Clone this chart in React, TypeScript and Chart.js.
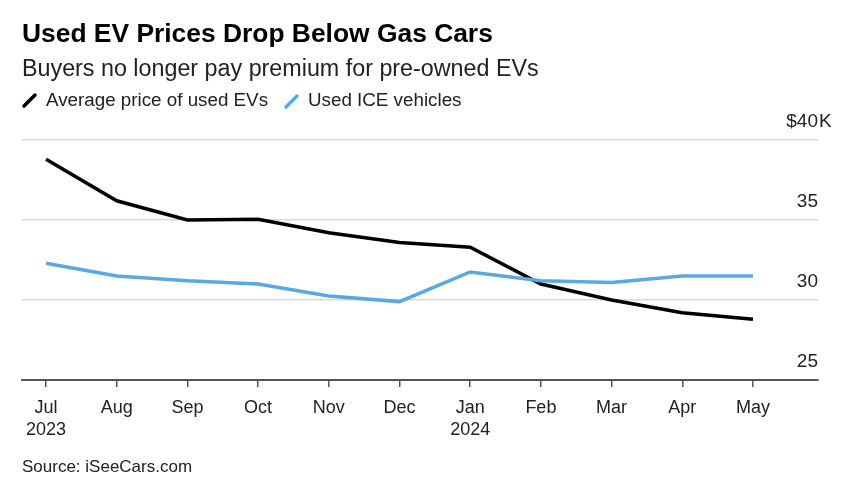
import React, { useEffect, useRef } from 'react';
import { Chart, registerables } from 'chart.js';

Chart.register(...registerables);

const months = ['Jul', 'Aug', 'Sep', 'Oct', 'Nov', 'Dec', 'Jan', 'Feb', 'Mar', 'Apr', 'May'];
const years = ['2023', '', '', '', '', '', '2024', '', '', '', ''];
const evPrices = [38.8, 36.2, 35.0, 35.05, 34.2, 33.6, 33.3, 31.0, 30.0, 29.2, 28.8];
const icePrices = [32.3, 31.5, 31.2, 31.0, 30.25, 29.9, 31.75, 31.2, 31.1, 31.5, 31.5];
const yTickValues = [25, 30, 35, 40];
const seriesNames = ['Average price of used EVs', 'Used ICE vehicles'];
const seriesColors = ['#000000', '#5aa8e3'];

const FONT = '"Liberation Sans", Arial, Helvetica, sans-serif';

const yLabelPlugin = {
  id: 'yLabels',
  afterDraw(chart: any) {
    const y = chart.scales.y;
    const ctx = chart.ctx;
    const right = chart.chartArea.right;
    ctx.save();
    ctx.font = `19px ${FONT}`;
    ctx.fillStyle = '#222';
    ctx.textBaseline = 'middle';
    const top = Math.max(...yTickValues);
    yTickValues.forEach((v) => {
      const py = y.getPixelForValue(v) - 18;
      if (v === top) {
        ctx.textAlign = 'right';
        ctx.fillText('$' + v, right, py);
        ctx.textAlign = 'left';
        ctx.fillText('K', right + 1, py);
      } else {
        ctx.textAlign = 'right';
        ctx.fillText(String(v), right, py);
      }
    });
    ctx.restore();
  },
};

function Slash({ color }: { color: string }) {
  return (
    <svg width="18" height="18" style={{ display: 'inline-block', verticalAlign: 'middle' }}>
      <line x1="3" y1="15" x2="14" y2="4" stroke={color} strokeWidth="3.5" strokeLinecap="round" />
    </svg>
  );
}

export default function App() {
  const canvasRef = useRef<HTMLCanvasElement | null>(null);

  useEffect(() => {
    const canvas = canvasRef.current;
    if (!canvas) return;
    const chart = new Chart(canvas, {
      type: 'line',
      data: {
        datasets: [
          {
            label: seriesNames[1],
            data: icePrices.map((v, i) => ({ x: i, y: v })),
            borderColor: seriesColors[1],
            borderWidth: 3.5,
            pointRadius: 0,
            tension: 0,
          },
          {
            label: seriesNames[0],
            data: evPrices.map((v, i) => ({ x: i, y: v })),
            borderColor: seriesColors[0],
            borderWidth: 3.5,
            pointRadius: 0,
            tension: 0,
          },
        ],
      },
      options: {
        animation: false,
        responsive: false,
        maintainAspectRatio: false,
        layout: { padding: { left: 22, right: 32, top: 140, bottom: 48 } },
        plugins: {
          legend: { display: false },
          tooltip: { enabled: false },
          title: { display: false },
        },
        scales: {
          x: {
            type: 'linear',
            min: -0.34,
            max: 10.92,
            afterFit: (s: any) => {
              s.height = 60;
            },
            ticks: {
              stepSize: 1,
              includeBounds: false,
              autoSkip: false,
              maxRotation: 0,
              padding: 10,
              color: '#222',
              font: { family: FONT, size: 18, lineHeight: '22px' },
              callback: (v: any) => {
                const i = Number(v);
                if (!Number.isInteger(i) || i < 0 || i >= months.length) return '';
                return years[i] ? [months[i], years[i]] : months[i];
              },
            },
            grid: {
              drawOnChartArea: false,
              drawTicks: true,
              tickLength: 7,
              color: '#555',
              lineWidth: 1.5,
            },
            border: { display: true, color: '#555', width: 2 },
          },
          y: {
            position: 'right',
            min: 25,
            max: 40,
            afterFit: (s: any) => {
              s.width = 0;
            },
            afterBuildTicks: (s: any) => {
              s.ticks = yTickValues.map((v) => ({ value: v }));
            },
            ticks: { display: false },
            grid: { drawTicks: false, color: '#d9d9d9', lineWidth: 1.5 },
            border: { display: false },
          },
        },
      },
      plugins: [yLabelPlugin],
    } as any);
    return () => chart.destroy();
  }, []);

  return (
    <div
      style={{
        position: 'fixed',
        left: 0,
        top: 0,
        width: 850,
        height: 488,
        background: '#fff',
        fontFamily: FONT,
        color: '#222',
      }}
    >
      <canvas ref={canvasRef} width={850} height={488} style={{ position: 'absolute', left: 0, top: 0 }} />
      <div style={{ position: 'absolute', left: 22, top: 18, fontSize: 26.4, fontWeight: 'bold', color: '#000', whiteSpace: 'nowrap', lineHeight: '30px' }}>
        Used EV Prices Drop Below Gas Cars
      </div>
      <div style={{ position: 'absolute', left: 22, top: 54, fontSize: 23.3, color: '#222', whiteSpace: 'nowrap', lineHeight: '28px' }}>
        Buyers no longer pay premium for pre-owned EVs
      </div>
      <div style={{ position: 'absolute', left: 21, top: 89, fontSize: 18.8, color: '#222', whiteSpace: 'nowrap', lineHeight: '22px', display: 'flex', alignItems: 'center' }}>
        <Slash color={seriesColors[0]} />
        <span style={{ marginLeft: 7 }}>{seriesNames[0]}</span>
        <span style={{ marginLeft: 15 }}><Slash color={seriesColors[1]} /></span>
        <span style={{ marginLeft: 7 }}>{seriesNames[1]}</span>
      </div>
      <div style={{ position: 'absolute', left: 22, top: 456, fontSize: 17, color: '#222', whiteSpace: 'nowrap', lineHeight: '22px' }}>
        Source: iSeeCars.com
      </div>
    </div>
  );
}
